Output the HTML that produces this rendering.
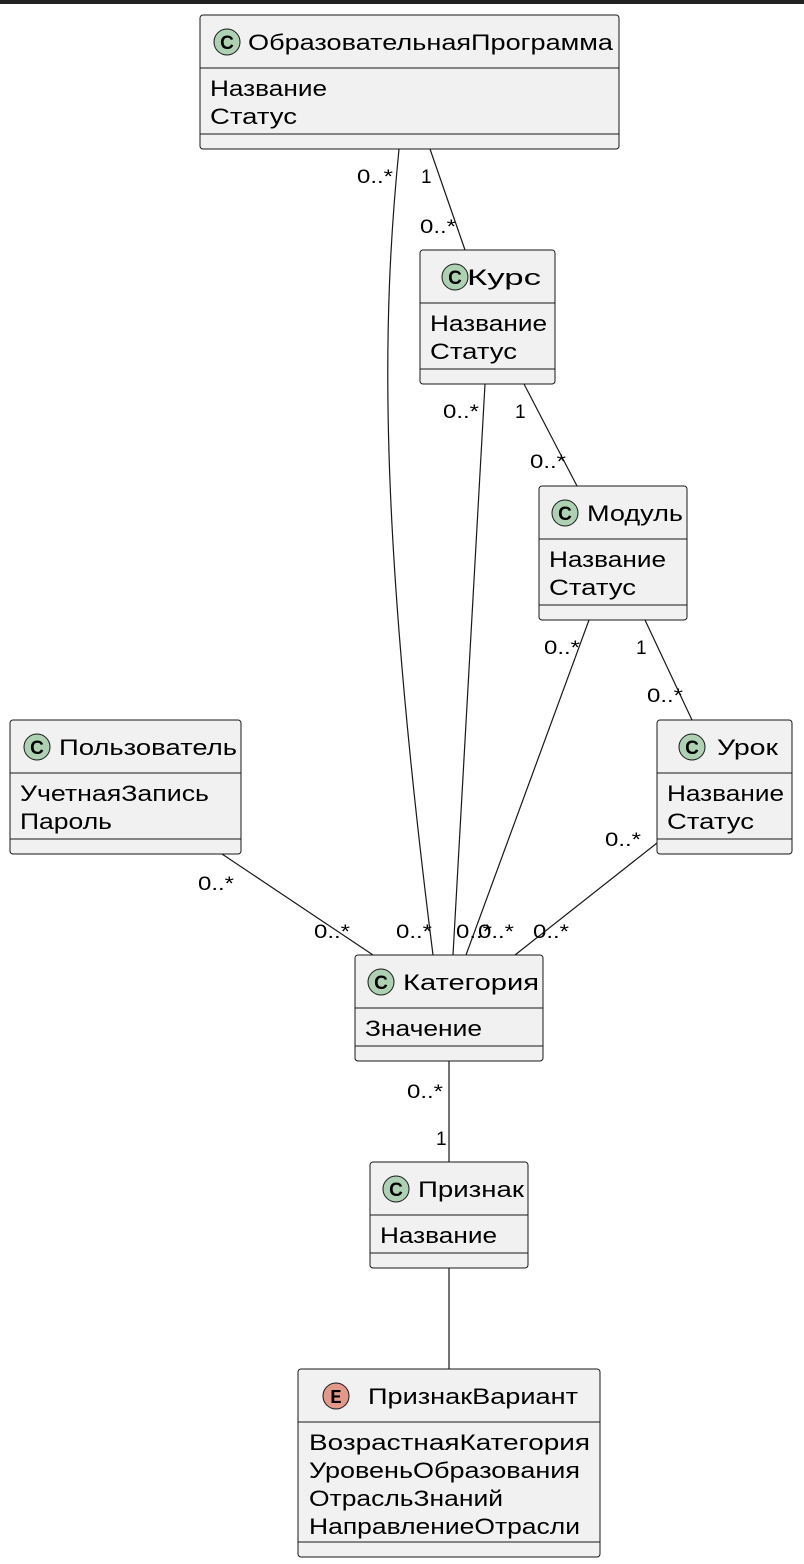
<!DOCTYPE html>
<html><head><meta charset="utf-8"><style>
html,body{margin:0;padding:0;background:#fff;}
svg{display:block;}
text{font-family:"Liberation Sans","DejaVu Sans",sans-serif;fill:#000;}
.t{font-size:22px;}
.l{font-size:19px;}
.box{fill:#f1f1f1;stroke:#181818;stroke-width:1;}
.sep{stroke:#181818;stroke-width:1;}
.e{stroke:#181818;stroke-width:1.2;fill:none;}
.ci{fill:#add1b2;stroke:#181818;stroke-width:1;}
.ce{fill:#e3998a;stroke:#181818;stroke-width:1;}
.cl{font-family:"Liberation Sans",sans-serif;font-weight:bold;font-size:19px;}
</style></head><body>
<svg width="804" height="1564" viewBox="0 0 804 1564" xmlns="http://www.w3.org/2000/svg">
<rect x="0" y="0" width="804" height="4" fill="#222"/>
<path class="e" d="M399,149 C382,320 378,520 433,955"/>
<line class="e" x1="430" y1="149" x2="465" y2="250"/>
<line class="e" x1="485" y1="384" x2="453" y2="955"/>
<line class="e" x1="524" y1="384" x2="577" y2="486"/>
<line class="e" x1="589" y1="620" x2="466" y2="955"/>
<line class="e" x1="645" y1="620" x2="692" y2="720"/>
<line class="e" x1="222" y1="854" x2="373" y2="955"/>
<line class="e" x1="657" y1="843" x2="515" y2="955"/>
<line class="e" x1="449" y1="1061" x2="449" y2="1162"/>
<line class="e" x1="449" y1="1268" x2="449" y2="1369"/>
<g class="l">
<text x="357" y="183" textLength="36" lengthAdjust="spacingAndGlyphs">0..*</text>
<text x="421" y="183">1</text>
<text x="420" y="233" textLength="36" lengthAdjust="spacingAndGlyphs">0..*</text>
<text x="443" y="418" textLength="36" lengthAdjust="spacingAndGlyphs">0..*</text>
<text x="515" y="418">1</text>
<text x="530" y="468" textLength="36" lengthAdjust="spacingAndGlyphs">0..*</text>
<text x="544" y="654" textLength="36" lengthAdjust="spacingAndGlyphs">0..*</text>
<text x="636" y="654">1</text>
<text x="647" y="702" textLength="36" lengthAdjust="spacingAndGlyphs">0..*</text>
<text x="198" y="890" textLength="36" lengthAdjust="spacingAndGlyphs">0..*</text>
<text x="605" y="846" textLength="36" lengthAdjust="spacingAndGlyphs">0..*</text>
<text x="314" y="938" textLength="36" lengthAdjust="spacingAndGlyphs">0..*</text>
<text x="396" y="938" textLength="36" lengthAdjust="spacingAndGlyphs">0..*</text>
<text x="456" y="938" textLength="36" lengthAdjust="spacingAndGlyphs">0..*</text>
<text x="478" y="938" textLength="36" lengthAdjust="spacingAndGlyphs">0..*</text>
<text x="533" y="938" textLength="36" lengthAdjust="spacingAndGlyphs">0..*</text>
<text x="407" y="1098" textLength="36" lengthAdjust="spacingAndGlyphs">0..*</text>
<text x="436" y="1145">1</text>
</g>
<rect class="box" x="200" y="15" width="419" height="134" rx="3"/>
<line class="sep" x1="200" y1="68" x2="619" y2="68"/><line class="sep" x1="200" y1="134" x2="619" y2="134"/>
<circle class="ci" cx="227" cy="42" r="13"/><text class="cl" x="227" y="49" text-anchor="middle">C</text>
<text class="t" x="248" y="50" textLength="365" lengthAdjust="spacingAndGlyphs">ОбразовательнаяПрограмма</text>
<text class="t" x="210" y="96" textLength="117" lengthAdjust="spacingAndGlyphs">Название</text>
<text class="t" x="210" y="124" textLength="87" lengthAdjust="spacingAndGlyphs">Статус</text>
<rect class="box" x="420" y="250" width="135" height="134" rx="3"/>
<line class="sep" x1="420" y1="303" x2="555" y2="303"/><line class="sep" x1="420" y1="369" x2="555" y2="369"/>
<circle class="ci" cx="455" cy="277" r="13"/><text class="cl" x="455" y="284" text-anchor="middle">C</text>
<text class="t" x="467" y="285" textLength="74" lengthAdjust="spacingAndGlyphs">Курс</text>
<text class="t" x="430" y="331" textLength="117" lengthAdjust="spacingAndGlyphs">Название</text>
<text class="t" x="430" y="359" textLength="87" lengthAdjust="spacingAndGlyphs">Статус</text>
<rect class="box" x="539" y="486" width="148" height="134" rx="3"/>
<line class="sep" x1="539" y1="539" x2="687" y2="539"/><line class="sep" x1="539" y1="605" x2="687" y2="605"/>
<circle class="ci" cx="565" cy="513" r="13"/><text class="cl" x="565" y="520" text-anchor="middle">C</text>
<text class="t" x="587" y="521" textLength="96" lengthAdjust="spacingAndGlyphs">Модуль</text>
<text class="t" x="549" y="567" textLength="117" lengthAdjust="spacingAndGlyphs">Название</text>
<text class="t" x="549" y="595" textLength="87" lengthAdjust="spacingAndGlyphs">Статус</text>
<rect class="box" x="657" y="720" width="135" height="134" rx="3"/>
<line class="sep" x1="657" y1="773" x2="792" y2="773"/><line class="sep" x1="657" y1="839" x2="792" y2="839"/>
<circle class="ci" cx="692" cy="747" r="13"/><text class="cl" x="692" y="754" text-anchor="middle">C</text>
<text class="t" x="717" y="755" textLength="61" lengthAdjust="spacingAndGlyphs">Урок</text>
<text class="t" x="667" y="801" textLength="117" lengthAdjust="spacingAndGlyphs">Название</text>
<text class="t" x="667" y="829" textLength="87" lengthAdjust="spacingAndGlyphs">Статус</text>
<rect class="box" x="10" y="720" width="231" height="134" rx="3"/>
<line class="sep" x1="10" y1="773" x2="241" y2="773"/><line class="sep" x1="10" y1="839" x2="241" y2="839"/>
<circle class="ci" cx="37" cy="747" r="13"/><text class="cl" x="37" y="754" text-anchor="middle">C</text>
<text class="t" x="59" y="755" textLength="178" lengthAdjust="spacingAndGlyphs">Пользователь</text>
<text class="t" x="20" y="801" textLength="189" lengthAdjust="spacingAndGlyphs">УчетнаяЗапись</text>
<text class="t" x="20" y="829" textLength="92" lengthAdjust="spacingAndGlyphs">Пароль</text>
<rect class="box" x="355" y="955" width="188" height="106" rx="3"/>
<line class="sep" x1="355" y1="1008" x2="543" y2="1008"/><line class="sep" x1="355" y1="1046" x2="543" y2="1046"/>
<circle class="ci" cx="381" cy="982" r="13"/><text class="cl" x="381" y="989" text-anchor="middle">C</text>
<text class="t" x="403" y="990" textLength="136" lengthAdjust="spacingAndGlyphs">Категория</text>
<text class="t" x="365" y="1036" textLength="117" lengthAdjust="spacingAndGlyphs">Значение</text>
<rect class="box" x="370" y="1162" width="158" height="106" rx="3"/>
<line class="sep" x1="370" y1="1215" x2="528" y2="1215"/><line class="sep" x1="370" y1="1253" x2="528" y2="1253"/>
<circle class="ci" cx="396" cy="1189" r="13"/><text class="cl" x="396" y="1196" text-anchor="middle">C</text>
<text class="t" x="418" y="1197" textLength="106" lengthAdjust="spacingAndGlyphs">Признак</text>
<text class="t" x="380" y="1243" textLength="117" lengthAdjust="spacingAndGlyphs">Название</text>
<rect class="box" x="298" y="1369" width="302" height="188" rx="3"/>
<line class="sep" x1="298" y1="1422" x2="600" y2="1422"/><line class="sep" x1="298" y1="1542" x2="600" y2="1542"/>
<circle class="ce" cx="336" cy="1396" r="13"/><text x="336" y="1403" text-anchor="middle" style="font-family:'Liberation Mono',monospace;font-weight:bold;font-size:19px">E</text>
<text class="t" x="368" y="1404" textLength="210" lengthAdjust="spacingAndGlyphs">ПризнакВариант</text>
<text class="t" x="309" y="1450" textLength="281" lengthAdjust="spacingAndGlyphs">ВозрастнаяКатегория</text>
<text class="t" x="309" y="1478" textLength="271" lengthAdjust="spacingAndGlyphs">УровеньОбразования</text>
<text class="t" x="309" y="1506" textLength="194" lengthAdjust="spacingAndGlyphs">ОтрасльЗнаний</text>
<text class="t" x="309" y="1534" textLength="271" lengthAdjust="spacingAndGlyphs">НаправлениеОтрасли</text>
</svg>
</body></html>
